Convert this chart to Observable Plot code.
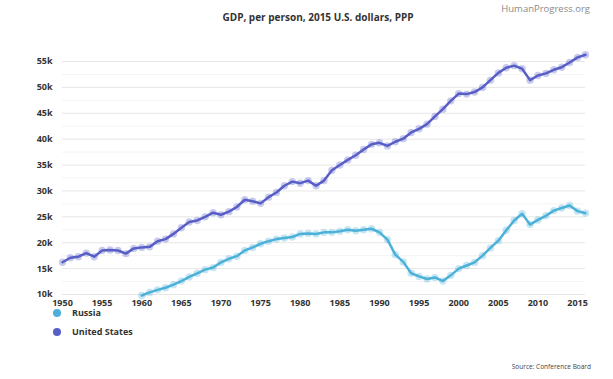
<!DOCTYPE html>
<html>
<head>
<meta charset="utf-8">
<script src="https://cdn.jsdelivr.net/npm/d3@7"></script>
<script src="https://cdn.jsdelivr.net/npm/@observablehq/plot@0.6"></script>
<style>
  body { margin: 0; background: #fff; }
  #wrap { position: relative; width: 613px; height: 379px; font-family: "Open Sans", sans-serif; overflow: hidden; }
  #title { position: absolute; top: 10px; left: 0; width: 636px; text-align: center; font-size: 10px; font-weight: bold; color: #333; }
  #brand { position: absolute; top: 2px; right: 23px; font-size: 9.5px; color: #8a8a8a; }
  #chart { position: absolute; top: 40px; left: 0; }
  .leg { position: absolute; left: 53px; height: 10px; line-height: 10px; font-size: 9px; font-weight: bold; color: #333; display: flex; align-items: center; }
  .leg span.dot { display: inline-block; width: 8px; height: 8px; border-radius: 50%; margin-right: 11px; }
  #source { position: absolute; top: 362px; right: 22px; font-size: 6.5px; color: #444; }
</style>
</head>
<body>
<div id="wrap">
  <div id="brand">HumanProgress.org</div>
  <div id="title">GDP, per person, 2015 U.S. dollars, PPP</div>
  <div id="chart"></div>
  <div id="legend"></div>
  <div id="source">Source: Conference Board</div>
</div>
<script>
const seriesNames = ["Russia", "United States"];
const seriesColors = ["#4cb1d8", "#575ec6"];

const usYears = d3.range(1950, 2017);
const usValues = [
  16230, 17100, 17300, 18000, 17300, 18500, 18600, 18500, 17900, 18900,
  19100, 19200, 20300, 20700, 21700, 22900, 24000, 24300, 25000, 25800,
  25400, 26000, 26900, 28300, 28000, 27600, 28800, 29700, 31000, 31800,
  31500, 32000, 31000, 32000, 34000, 35000, 36000, 36900, 38000, 39000,
  39300, 38700, 39500, 40100, 41300, 42000, 42900, 44400, 45800, 47400,
  48800, 48700, 49100, 50000, 51400, 52800, 53800, 54200, 53600, 51400,
  52300, 52700, 53400, 53900, 54800, 55800, 56300
];

const ruYears = d3.range(1960, 2017);
const ruValues = [
  9800, 10400, 10900, 11300, 11900, 12600, 13400, 14100, 14800, 15200,
  16200, 16900, 17400, 18500, 19100, 19800, 20300, 20700, 20900, 21100,
  21700, 21800, 21700, 22000, 22000, 22200, 22500, 22300, 22500, 22700,
  22000, 20600, 17700, 16300, 14100, 13500, 13000, 13300, 12600, 13700,
  15000, 15600, 16200, 17500, 19000, 20400, 22400, 24300, 25600, 23500,
  24400, 25200, 26200, 26700, 27200, 26100, 25700
];

const xTicks = d3.range(1950, 2016, 5);
const yTicks = d3.range(10000, 55001, 5000);
const yMinor = d3.range(12500, 55000, 5000);

const data = [
  ...ruYears.map((y, i) => ({year: y, value: ruValues[i], country: "Russia"})),
  ...usYears.map((y, i) => ({year: y, value: usValues[i], country: "United States"}))
];

const chart = Plot.plot({
  width: 613,
  height: 270,
  marginLeft: 62,
  marginRight: 28,
  marginTop: 21,
  marginBottom: 16,
  style: {fontFamily: "'Open Sans', sans-serif", fontSize: "9px", fontWeight: "bold", color: "#333", background: "transparent"},
  x: {domain: [1950, 2016]},
  y: {domain: [10000, 55000]},
  color: {domain: seriesNames, range: seriesColors},
  marks: [
    Plot.ruleY(yMinor, {stroke: "#f3f3f3", strokeWidth: 1}),
    Plot.ruleY(yTicks, {stroke: "#e6e6e6", strokeWidth: 1}),
    Plot.axisX({ticks: xTicks, tickSize: 0, tickPadding: 5, tickFormat: d => String(d), label: null}),
    Plot.axisY({ticks: yTicks, tickSize: 0, tickPadding: 10, tickFormat: d => (d / 1000) + "k", label: null}),
    Plot.dot(data, {x: "year", y: "value", fill: "country", fillOpacity: 0.32, r: 3.7, stroke: "none"}),
    Plot.line(data, {x: "year", y: "value", z: "country", stroke: "country", strokeWidth: 2.5, curve: "linear"})
  ]
});
document.getElementById("chart").appendChild(chart);

const legend = document.getElementById("legend");
seriesNames.forEach((name, i) => {
  const d = document.createElement("div");
  d.className = "leg";
  d.style.top = (308 + i * 19) + "px";
  d.innerHTML = `<span class="dot" style="background:${seriesColors[i]}"></span>${name}`;
  legend.appendChild(d);
});
</script>
</body>
</html>
